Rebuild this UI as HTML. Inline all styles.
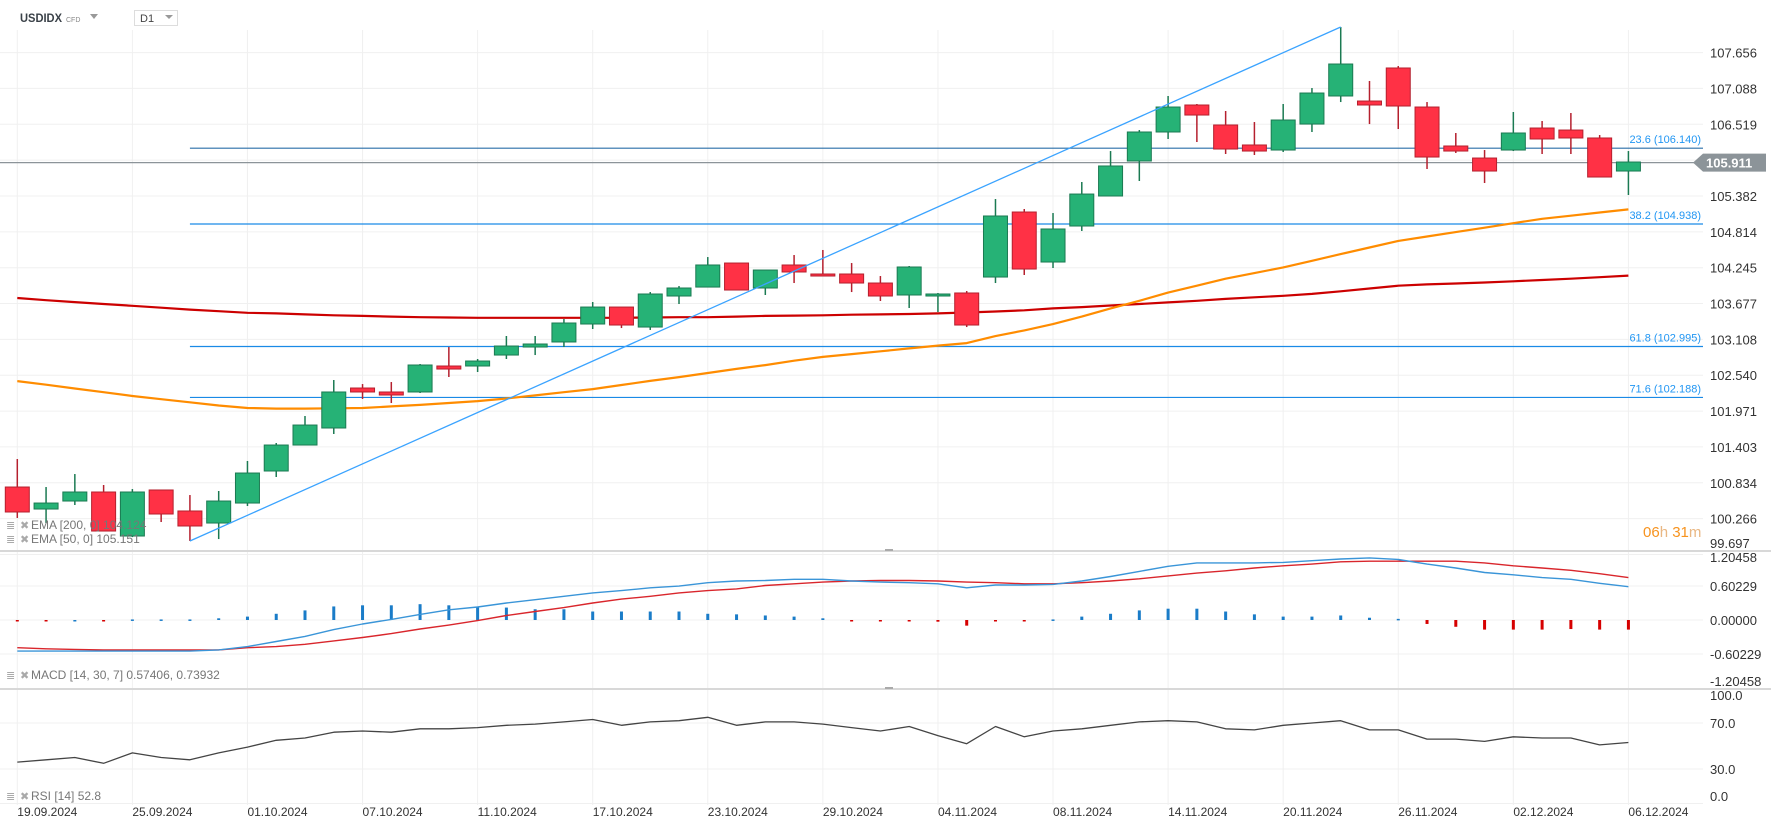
<!DOCTYPE html>
<html><head><meta charset="utf-8">
<style>
html,body{margin:0;padding:0;background:#fff;}
body{width:1771px;height:824px;overflow:hidden;font-family:"Liberation Sans",sans-serif;}
svg text{font-family:"Liberation Sans",sans-serif;}
</style></head>
<body>
<svg id="chart" width="1771" height="824" viewBox="0 0 1771 824" xmlns="http://www.w3.org/2000/svg">
  <g id="grid"></g>
  <g id="main"></g>
  <g id="macd"></g>
  <g id="rsi"></g>
  <g id="axes"></g>
  <!-- header -->
  <text x="20" y="22" font-size="11.5" font-weight="bold" fill="#3a4148" textLength="42" lengthAdjust="spacingAndGlyphs">USDIDX</text>
  <text x="66" y="22" font-size="7" fill="#888">CFD</text>
  <path d="M90,14 L98,14 L94,19 Z" fill="#999"/>
  <rect x="134.5" y="10.5" width="43" height="15" fill="#fff" stroke="#ddd"/>
  <text x="140" y="22" font-size="11" fill="#444">D1</text>
  <path d="M165,15 L173,15 L169,19 Z" fill="#999"/>
  <!-- legends -->
  <g font-size="12" fill="#777">
    <text x="6" y="529" font-size="11" fill="#aaa">≣</text>
    <text x="20" y="529" font-size="11" fill="#aaa">✖</text>
    <text x="31" y="529">EMA [200, 0] 104.124</text>
    <text x="6" y="543" font-size="11" fill="#aaa">≣</text>
    <text x="20" y="543" font-size="11" fill="#aaa">✖</text>
    <text x="31" y="543">EMA [50, 0] 105.151</text>
    <text x="6" y="679" font-size="11" fill="#aaa">≣</text>
    <text x="20" y="679" font-size="11" fill="#aaa">✖</text>
    <text x="31" y="679">MACD [14, 30, 7] 0.57406, 0.73932</text>
    <text x="6" y="800" font-size="11" fill="#aaa">≣</text>
    <text x="20" y="800" font-size="11" fill="#aaa">✖</text>
    <text x="31" y="800">RSI [14] 52.8</text>
  </g>
  <text x="1643" y="537" font-size="15"><tspan fill="#f7931e">06</tspan><tspan fill="#e9b783">h </tspan><tspan fill="#f7931e">31</tspan><tspan fill="#e9b783">m</tspan></text>
</svg>
<script>
// ---- data ----
const dates = ["19.09.2024","25.09.2024","01.10.2024","07.10.2024","11.10.2024","17.10.2024","23.10.2024","29.10.2024","04.11.2024","08.11.2024","14.11.2024","20.11.2024","26.11.2024","02.12.2024","06.12.2024"];
const dateIdx = [0,4,8,12,16,20,24,28,32,36,40,44,48,52,56];
const opens = [100.767,100.418,100.545,100.688,99.990,100.720,100.387,100.196,100.513,101.021,101.433,101.703,102.337,102.274,102.274,102.686,102.686,102.860,102.987,103.067,103.352,103.621,103.304,103.796,103.938,104.319,103.923,104.288,104.145,104.145,104.002,103.812,103.796,103.844,104.097,105.128,104.335,104.906,105.382,105.937,106.397,106.825,106.508,106.191,106.111,106.523,106.968,106.888,107.412,106.793,106.175,105.984,106.111,106.460,106.428,106.302,105.778];
const highs = [101.211,100.767,100.973,100.799,100.735,100.720,100.640,100.704,101.180,101.465,101.893,102.464,102.400,102.432,102.718,102.987,102.797,103.162,103.162,103.431,103.701,103.621,103.859,103.954,104.414,104.319,104.208,104.446,104.526,104.319,104.113,104.272,103.844,103.875,105.334,105.176,105.112,105.604,106.095,106.428,106.968,106.841,106.730,106.555,106.841,107.094,108.062,107.206,107.443,106.872,106.381,106.111,106.714,106.571,106.698,106.349,106.095];
const lows = [100.276,100.196,100.482,100.069,99.974,100.212,99.911,99.942,100.466,100.926,101.433,101.608,102.163,102.099,102.258,102.512,102.591,102.797,102.860,102.987,103.273,103.288,103.257,103.669,103.938,103.891,103.812,104.002,104.113,103.859,103.717,103.606,103.542,103.304,104.002,104.129,104.240,104.827,105.382,105.620,106.286,106.238,106.048,106.032,106.080,106.397,106.872,106.523,106.444,105.810,106.064,105.588,106.095,106.048,106.048,105.683,105.398];
const closes = [100.371,100.513,100.688,100.069,100.688,100.339,100.149,100.545,100.989,101.433,101.750,102.274,102.274,102.226,102.702,102.638,102.765,103.003,103.035,103.368,103.621,103.336,103.828,103.923,104.288,103.891,104.208,104.177,104.113,104.002,103.796,104.256,103.828,103.336,105.065,104.224,104.859,105.413,105.858,106.397,106.793,106.666,106.127,106.095,106.587,107.015,107.475,106.825,106.809,106.000,106.095,105.778,106.381,106.286,106.302,105.683,105.921];
const ema200 = [103.765,103.73,103.70,103.67,103.64,103.61,103.58,103.555,103.53,103.52,103.505,103.49,103.48,103.47,103.46,103.455,103.45,103.45,103.45,103.45,103.45,103.45,103.455,103.46,103.46,103.47,103.48,103.485,103.49,103.50,103.505,103.51,103.52,103.535,103.55,103.57,103.60,103.62,103.645,103.67,103.695,103.72,103.75,103.775,103.80,103.83,103.87,103.915,103.96,103.98,103.995,104.01,104.03,104.05,104.07,104.095,104.12];
const ema50 = [102.447,102.39,102.33,102.27,102.21,102.16,102.11,102.06,102.02,102.01,102.01,102.015,102.02,102.045,102.07,102.10,102.13,102.17,102.22,102.27,102.32,102.385,102.45,102.51,102.575,102.64,102.70,102.77,102.83,102.875,102.92,102.965,103.01,103.05,103.16,103.25,103.35,103.47,103.60,103.72,103.85,103.96,104.07,104.16,104.25,104.355,104.46,104.565,104.67,104.74,104.81,104.88,104.95,105.02,105.07,105.12,105.17];
const macdLine = [-0.55,-0.55,-0.55,-0.55,-0.55,-0.55,-0.55,-0.53,-0.47,-0.38,-0.29,-0.17,-0.07,0.01,0.10,0.18,0.23,0.30,0.36,0.42,0.48,0.52,0.57,0.60,0.66,0.69,0.70,0.72,0.72,0.69,0.67,0.66,0.64,0.57,0.62,0.62,0.63,0.69,0.77,0.86,0.95,1.01,1.01,1.01,1.02,1.05,1.08,1.10,1.07,0.99,0.92,0.84,0.80,0.75,0.72,0.65,0.59];
const signalLine = [-0.49,-0.51,-0.52,-0.53,-0.53,-0.53,-0.53,-0.53,-0.49,-0.47,-0.43,-0.37,-0.31,-0.24,-0.16,-0.09,-0.01,0.08,0.15,0.22,0.30,0.37,0.42,0.48,0.52,0.55,0.61,0.64,0.67,0.69,0.70,0.70,0.69,0.67,0.66,0.64,0.64,0.66,0.69,0.73,0.78,0.83,0.87,0.92,0.96,0.99,1.03,1.04,1.04,1.04,1.04,1.01,0.96,0.92,0.88,0.82,0.75];
const histValues = [-0.01,-0.01,0,-0.01,0.01,0.01,0.01,0.03,0.06,0.11,0.17,0.24,0.26,0.26,0.28,0.26,0.23,0.22,0.19,0.19,0.15,0.15,0.15,0.15,0.11,0.10,0.08,0.06,0.03,-0.02,-0.01,-0.01,-0.03,-0.10,-0.01,-0.01,0.01,0.06,0.11,0.17,0.20,0.20,0.15,0.10,0.06,0.06,0.08,0.04,0.02,-0.07,-0.12,-0.17,-0.17,-0.17,-0.16,-0.17,-0.17];
const rsiValues = [36,38,40,35,44,40,38,44,49,55,57,62,63,62,65,65,66,68,69,71,73,68,71,72,75,68,71,71,69,66,63,67,59,52,67,58,63,65,68,71,72,71,65,64,68,70,72,64,64,56,56,54,58,57,57,51,53];
const priceTicks = [107.656,107.088,106.519,105.951,105.382,104.814,104.245,103.677,103.108,102.540,101.971,101.403,100.834,100.266,99.697];
const fibLevels = [23.6,38.2,61.8,71.6];
const fibPrices = [106.140,104.938,102.995,102.188];
const macdTicks = [1.20458,0.60229,0,-0.60229,-1.20458];
const macdTickLabels = ["1.20458","0.60229","0.00000","-0.60229","-1.20458"];
const rsiTicks = [100,70,30,0];
const rsiTickLabels = ["100.0","70.0","30.0","0.0"];
const lastPrice = 105.911;
const swingLowIdx = 6, swingHighIdx = 46;

// ---- scales ----
const NS="http://www.w3.org/2000/svg";
const X0=17.3, DX=28.77, PLOT_R=1703;
const xi = i => X0 + DX*i;
const yP = p => 124.3 + (106.519 - p)*63.06;
const yM = v => 620 - v*56.5;
const yR = v => 803.5 - v*1.15;
function mk(tag, attrs, parent){const e=document.createElementNS(NS,tag);for(const k in attrs)e.setAttribute(k,attrs[k]);parent.appendChild(e);return e;}
const G=document.getElementById('grid'), M=document.getElementById('main'), MC=document.getElementById('macd'), R=document.getElementById('rsi'), A=document.getElementById('axes');

// grid
for(let gx=17.3; gx<PLOT_R; gx+=115.08){
  const l=mk('line',{x1:gx,x2:gx,y1:30,y2:805,stroke:'#f0f0f0','stroke-width':1},G);
  
  
}
priceTicks.forEach((p,k)=>{
  const y=yP(p);
  const l=mk('line',{x1:0,x2:PLOT_R,y1:y,y2:y,stroke:'#f0f0f0'},G);
  
  
  const ty = k===priceTicks.length-1 ? 548 : y+5;
  const t=mk('text',{x:1710,y:ty,'font-size':13,fill:'#333'},A);
  t.textContent=p.toFixed(3);
  
  
});
macdTicks.forEach((v,k)=>{
  const y=yM(v);
  if(k>0&&k<macdTicks.length-1){const l=mk('line',{x1:0,x2:PLOT_R,y1:y,y2:y,stroke:'#f0f0f0'},G);
  
  }
  let ty=y+5; if(k===0) ty=562; if(k===macdTicks.length-1) ty=686;
  const t=mk('text',{x:1710,y:ty,'font-size':13,fill:'#333'},A);
  t.textContent=macdTickLabels[k];
  
  
});
rsiTicks.forEach((v,k)=>{
  const y=yR(v);
  if(k>0){const l=mk('line',{x1:0,x2:PLOT_R,y1:y,y2:y,stroke:'#f0f0f0'},G);
  
  }
  let ty=y+5; if(k===0) ty=700; if(k===rsiTicks.length-1) ty=801;
  const t=mk('text',{x:1710,y:ty,'font-size':13,fill:'#333'},A);
  t.textContent=rsiTickLabels[k];
  
  
});
// panel separators
[551,689].forEach(y=>{
  const l=mk('line',{x1:0,x2:1771,y1:y,y2:y,stroke:'#d8d8d8','stroke-width':2},A);
  
  
  const h=mk('rect',{x:885,y:y-2,width:8,height:2,fill:'#aaa'},A);
  
  
});
// dates
dates.forEach((d,k)=>{
  const t=mk('text',{x:xi(dateIdx[k]),y:816,'font-size':12,fill:'#333'},A);
  t.textContent=d;
  
  
});

// fib levels
fibPrices.forEach((p,k)=>{
  const y=yP(p);
  const l=mk('line',{x1:xi(swingLowIdx),x2:PLOT_R,y1:y,y2:y,stroke:k===0?'#2a6fa8':'#1a8ae6','stroke-width':1.2},M);
  
  
  const t=mk('text',{x:PLOT_R-2,y:y-5,'font-size':11,fill:'#2196f3','text-anchor':'end'},M);
  t.textContent=fibLevels[k].toFixed(1)+' ('+p.toFixed(3)+')';
  
  
});
// current price line
{
  const y=yP(lastPrice);
  const l=mk('line',{x1:0,x2:PLOT_R,y1:y,y2:y,stroke:'#8c9499','stroke-width':1.2},M);
  
  
}
// EMA lines
function poly(arr, yf, color, w, parent, name){
  const pts=arr.map((v,i)=>xi(i).toFixed(1)+','+yf(v).toFixed(1)).join(' ');
  const p=mk('polyline',{points:pts,fill:'none',stroke:color,'stroke-width':w,'stroke-linejoin':'round'},parent);
  
  
}
poly(ema200,yP,'#cc0000',2.2,M,'ema200-line');
poly(ema50,yP,'#ff8c00',2.2,M,'ema50-line');

// candles
for(let i=0;i<opens.length;i++){
  const up=closes[i]>=opens[i];
  const x=xi(i);
  const fill=up?'#26b276':'#ff3145', st=up?'#1b7a52':'#b5202e';
  const w=mk('line',{x1:x,x2:x,y1:yP(highs[i]),y2:yP(lows[i]),stroke:st,'stroke-width':1.5},M);
  
  
  const top=yP(Math.max(opens[i],closes[i])), bot=yP(Math.min(opens[i],closes[i]));
  const b=mk('rect',{x:x-12,y:top,width:24,height:Math.max(bot-top,1.5),fill:fill,stroke:st,'stroke-width':1},M);
  
  
}
// trend line (fib anchor)
{
  const l=mk('line',{x1:xi(swingLowIdx),y1:yP(lows[swingLowIdx]),x2:xi(swingHighIdx),y2:yP(highs[swingHighIdx]),stroke:'#3aa3ff','stroke-width':1.3},M);
  
  
}
// last price tag
{
  const y=yP(lastPrice);
  const tag=mk('path',{d:`M1693,${y} L1703,${y-9} L1766,${y-9} L1766,${y+9} L1703,${y+9} Z`,fill:'#8c9499'},A);
  
  
  const t=mk('text',{x:1706,y:y+5,'font-size':13,fill:'#fff','font-weight':'bold'},A);
  t.textContent=lastPrice.toFixed(3);
  
  
}

// MACD
histValues.forEach((v,i)=>{
  const y0=yM(0), y1=yM(v);
  const b=mk('rect',{x:xi(i)-1.5,y:Math.min(y0,y1),width:3,height:Math.max(Math.abs(y1-y0),1.5),fill:v>=0?'#1a7cc8':'#d60000'},MC);
  
  
});
poly(signalLine,yM,'#d9262c',1.4,MC,'macd-signal-line');
poly(macdLine,yM,'#3a95d8',1.4,MC,'macd-line');

// RSI
poly(rsiValues,yR,'#444',1.3,R,'rsi-line');
</script>
</body></html>
